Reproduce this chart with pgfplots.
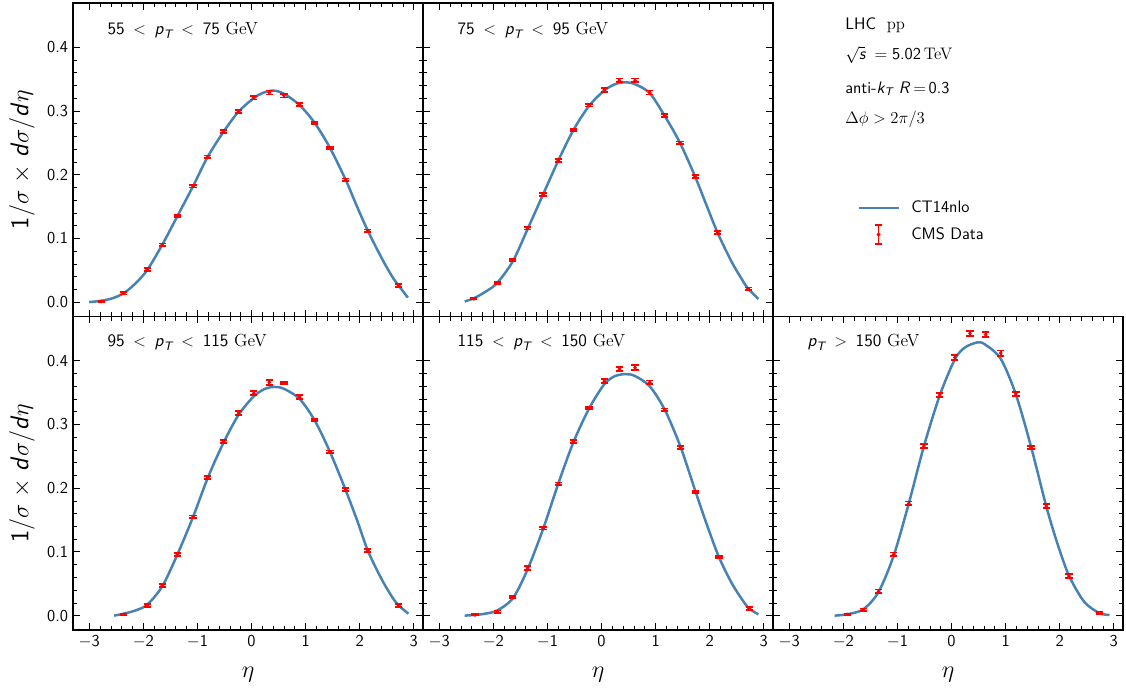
\documentclass[border=0pt]{standalone}
\usepackage{fontspec}
\usepackage{amsmath}
\usepackage{pgfplots}
\pgfplotsset{compat=1.18}
\renewcommand{\familydefault}{\sfdefault}
\definecolor{theoryblue}{HTML}{4682B4}
\newcommand{\pT}{$\textit{p}_{\textit{T}}$}
\newcommand{\twelve}{\fontsize{12}{14}\selectfont}
\newcommand{\lbl}{\fontsize{12.6}{15}\selectfont}

\pgfplotsset{
  panel/.style={
    scale only axis, width=252pt, height=225.72pt,
    xmin=-3.30, xmax=3.17, ymin=-0.0226, ymax=0.4695,
    xtick={-3,-2,-1,0,1,2,3},
    xticklabels={$-$3,$-$2,$-$1,0,1,2,3},
    ytick={0,0.1,0.2,0.3,0.4},
    yticklabels={0.0,0.1,0.2,0.3,0.4},
    minor x tick num=4, minor y tick num=4,
    tick align=inside,
    major tick length=5pt, minor tick length=3pt,
    every major tick/.append style={line width=0.6pt, black},
    every minor tick/.append style={line width=0.5pt, black},
    axis line style={line width=0.9pt},
    tick label style={font=\twelve},
    xlabel style={at={(axis description cs:0.5,-0.142)}, anchor=center, font=\fontsize{18}{21}\selectfont},
    ylabel style={at={(axis description cs:-0.146,0.5)}, anchor=center, font=\fontsize{18.5}{22}\selectfont},
  },
  noxlab/.style={xticklabels={}},
  noylab/.style={yticklabels={}},
  theory/.style={theoryblue, line width=1.8pt, smooth, no marks},
  cms/.style={only marks, red, mark=*, mark size=1.1pt,
    error bars/y dir=both, error bars/y explicit,
    error bars/error bar style={line width=1.3pt, red},
    error bars/error mark options={rotate=90, mark size=2.6pt, line width=1.3pt, red}},
}
\newcommand{\ylab}{1/$\sigma$\;$\times$\;\textit{d}$\sigma$/\textit{d}$\eta$}

\begin{document}
\begin{tikzpicture}
\useasboundingbox (0,0) rectangle (810.72pt,496.8pt);

% top left: 55 < pT < 75
\begin{axis}[panel, noxlab, at={(52.56pt,268.92pt)}, ylabel={\ylab}]
\addplot[theory] coordinates {(-3.00,0.000)(-2.78,0.002)(-2.57,0.006)(-2.36,0.014)(-2.15,0.029)(-1.93,0.050)(-1.65,0.090)(-1.37,0.135)(-1.08,0.182)(-0.81,0.228)(-0.52,0.267)(-0.24,0.299)(0.04,0.320)(0.20,0.328)(0.40,0.332)(0.60,0.327)(0.89,0.309)(1.17,0.281)(1.45,0.242)(1.74,0.192)(1.95,0.150)(2.15,0.112)(2.40,0.070)(2.60,0.040)(2.72,0.026)(2.89,0.007)};
\addplot[cms] coordinates {(-2.78,0.001) +- (0,0.001) (-2.36,0.014) +- (0,0.002) (-1.93,0.051) +- (0,0.002) (-1.65,0.090) +- (0,0.002) (-1.37,0.135) +- (0,0.002) (-1.08,0.182) +- (0,0.002) (-0.81,0.228) +- (0,0.002) (-0.52,0.268) +- (0,0.002) (-0.24,0.299) +- (0,0.002) (0.04,0.321) +- (0,0.003) (0.33,0.329) +- (0,0.003) (0.60,0.324) +- (0,0.003) (0.89,0.310) +- (0,0.002) (1.17,0.281) +- (0,0.002) (1.45,0.242) +- (0,0.002) (1.74,0.192) +- (0,0.002) (2.15,0.112) +- (0,0.002) (2.72,0.026) +- (0,0.002)};
\node[anchor=west, font=\lbl] at (axis description cs:0.085,0.914) {55 \,$<$\, \pT{} \,$<$\, 75 \textrm{GeV}};
\end{axis}

% top middle: 75 < pT < 95, holds the legend
\begin{axis}[panel, noxlab, noylab, at={(304.56pt,268.92pt)},
  legend cell align=left,
  legend style={at={(axis description cs:1.232,0.387)}, anchor=north west, draw=none, fill=none,
    font=\twelve, row sep=4.5pt, inner sep=2pt,
    nodes={inner xsep=5pt}}]
\addplot[theory, legend image code/.code={
    \path[draw=none, fill=none] (0pt,0pt) -- (33pt,0pt);
    \draw[theoryblue, line width=1.8pt] (0pt,0pt) -- (28.8pt,0pt);}]
  coordinates {(-2.53,0.001)(-2.36,0.006)(-2.15,0.016)(-1.93,0.030)(-1.64,0.064)(-1.37,0.114)(-1.08,0.169)(-0.80,0.222)(-0.52,0.270)(-0.23,0.308)(0.05,0.332)(0.25,0.342)(0.43,0.345)(0.62,0.342)(0.89,0.328)(1.17,0.292)(1.45,0.250)(1.73,0.197)(1.95,0.150)(2.15,0.108)(2.40,0.064)(2.60,0.035)(2.71,0.021)(2.90,0.005)};
\addlegendentry{CT14nlo}
\addplot[cms, legend image code/.code={
    \path[draw=none, fill=none] (0pt,0pt) -- (33pt,0pt);
    \draw[red, line width=1.4pt] (14.4pt,-7pt) -- (14.4pt,7pt);
    \draw[red, line width=1.4pt] (11.8pt,-7pt) -- (17pt,-7pt) (11.8pt,7pt) -- (17pt,7pt);
    \fill[red] (14.4pt,0pt) circle (1.2pt);}]
  coordinates {(-2.36,0.005) +- (0,0.001) (-1.93,0.030) +- (0,0.002) (-1.64,0.066) +- (0,0.002) (-1.37,0.116) +- (0,0.002) (-1.08,0.169) +- (0,0.002) (-0.80,0.222) +- (0,0.002) (-0.52,0.270) +- (0,0.002) (-0.23,0.309) +- (0,0.002) (0.05,0.333) +- (0,0.003) (0.33,0.348) +- (0,0.003) (0.62,0.348) +- (0,0.003) (0.89,0.329) +- (0,0.003) (1.17,0.293) +- (0,0.002) (1.45,0.250) +- (0,0.002) (1.73,0.197) +- (0,0.002) (2.15,0.109) +- (0,0.002) (2.71,0.021) +- (0,0.002)};
\addlegendentry{CMS Data}
\node[anchor=west, font=\lbl] at (axis description cs:0.085,0.914) {75 \,$<$\, \pT{} \,$<$\, 95 \textrm{GeV}};
\end{axis}

% bottom left: 95 < pT < 115
\begin{axis}[panel, at={(52.56pt,43.2pt)}, xlabel={$\eta$}, ylabel={\ylab}]
\addplot[theory] coordinates {(-2.54,0.000)(-2.36,0.003)(-2.15,0.008)(-1.93,0.017)(-1.65,0.046)(-1.37,0.096)(-1.08,0.155)(-0.81,0.216)(-0.52,0.271)(-0.24,0.315)(0.04,0.344)(0.25,0.356)(0.42,0.359)(0.60,0.356)(0.89,0.340)(1.17,0.306)(1.45,0.257)(1.74,0.197)(1.95,0.150)(2.15,0.102)(2.40,0.058)(2.60,0.029)(2.72,0.016)(2.90,0.003)};
\addplot[cms] coordinates {(-2.36,0.002) +- (0,0.001) (-1.93,0.016) +- (0,0.002) (-1.65,0.047) +- (0,0.002) (-1.37,0.096) +- (0,0.002) (-1.08,0.155) +- (0,0.002) (-0.81,0.217) +- (0,0.002) (-0.52,0.273) +- (0,0.002) (-0.24,0.318) +- (0,0.003) (0.04,0.349) +- (0,0.003) (0.33,0.366) +- (0,0.004) (0.60,0.365) +- (0,0.002) (0.89,0.343) +- (0,0.003) (1.17,0.307) +- (0,0.002) (1.45,0.257) +- (0,0.002) (1.74,0.198) +- (0,0.002) (2.15,0.102) +- (0,0.002) (2.72,0.016) +- (0,0.002)};
\node[anchor=west, font=\lbl] at (axis description cs:0.085,0.918) {95 \,$<$\, \pT{} \,$<$\, 115 \textrm{GeV}};
\end{axis}

% bottom middle: 115 < pT < 150
\begin{axis}[panel, noylab, at={(304.56pt,43.2pt)}, xlabel={$\eta$}]
\addplot[theory] coordinates {(-2.53,0.000)(-2.34,0.001)(-2.15,0.003)(-1.93,0.008)(-1.64,0.027)(-1.37,0.072)(-1.08,0.136)(-0.80,0.207)(-0.52,0.272)(-0.23,0.325)(0.05,0.363)(0.25,0.376)(0.45,0.379)(0.62,0.376)(0.89,0.360)(1.17,0.323)(1.46,0.265)(1.74,0.194)(1.95,0.142)(2.17,0.092)(2.40,0.052)(2.60,0.025)(2.73,0.011)(2.90,0.002)};
\addplot[cms] coordinates {(-2.34,0.001) +- (0,0.001) (-1.93,0.006) +- (0,0.002) (-1.64,0.029) +- (0,0.002) (-1.37,0.075) +- (0,0.003) (-1.08,0.137) +- (0,0.002) (-0.80,0.207) +- (0,0.002) (-0.52,0.273) +- (0,0.002) (-0.23,0.326) +- (0,0.002) (0.05,0.368) +- (0,0.003) (0.33,0.387) +- (0,0.003) (0.62,0.389) +- (0,0.004) (0.89,0.366) +- (0,0.003) (1.17,0.323) +- (0,0.002) (1.46,0.264) +- (0,0.002) (1.74,0.194) +- (0,0.002) (2.17,0.092) +- (0,0.002) (2.73,0.011) +- (0,0.002)};
\node[anchor=west, font=\lbl] at (axis description cs:0.085,0.918) {115 \,$<$\, \pT{} \,$<$\, 150 \textrm{GeV}};
\end{axis}

% bottom right: pT > 150
\begin{axis}[panel, noylab, at={(556.56pt,43.2pt)}, xlabel={$\eta$}]
\addplot[theory] coordinates {(-2.16,0.000)(-1.93,0.002)(-1.63,0.010)(-1.35,0.037)(-1.07,0.094)(-0.79,0.176)(-0.51,0.266)(-0.22,0.345)(0.06,0.402)(0.25,0.421)(0.49,0.429)(0.63,0.425)(0.91,0.403)(1.19,0.347)(1.47,0.265)(1.75,0.172)(1.95,0.115)(2.17,0.063)(2.45,0.022)(2.73,0.004)(2.92,0.001)};
\addplot[cms] coordinates {(-1.93,0.002) +- (0,0.001) (-1.63,0.009) +- (0,0.002) (-1.35,0.038) +- (0,0.003) (-1.07,0.096) +- (0,0.003) (-0.79,0.176) +- (0,0.003) (-0.51,0.266) +- (0,0.003) (-0.22,0.346) +- (0,0.003) (0.06,0.405) +- (0,0.004) (0.34,0.443) +- (0,0.004) (0.63,0.441) +- (0,0.004) (0.91,0.412) +- (0,0.004) (1.19,0.348) +- (0,0.003) (1.47,0.264) +- (0,0.002) (1.75,0.172) +- (0,0.003) (2.17,0.062) +- (0,0.003) (2.73,0.004) +- (0,0.002)};
\node[anchor=west, font=\lbl] at (axis description cs:0.085,0.918) {\pT{} \,$>$\, 150 \textrm{GeV}};
\end{axis}

% annotation block in the empty top-right cell
\begin{scope}[every node/.style={anchor=west, font=\twelve, inner sep=0pt}]
\node at (608.4pt,478.8pt) {LHC \ \textrm{pp}};
\node at (608.4pt,457.2pt) {$\sqrt{\textit{s}}\;=\;$5.02\,\textrm{TeV}};
\node at (608.4pt,432.8pt) {anti-$\textit{k}_{\textit{T}}$ \textit{R}\,$=$\,0.3};
\node at (608.4pt,411.2pt) {$\Delta\phi>2\pi/3$};
\end{scope}
\end{tikzpicture}
\end{document}
